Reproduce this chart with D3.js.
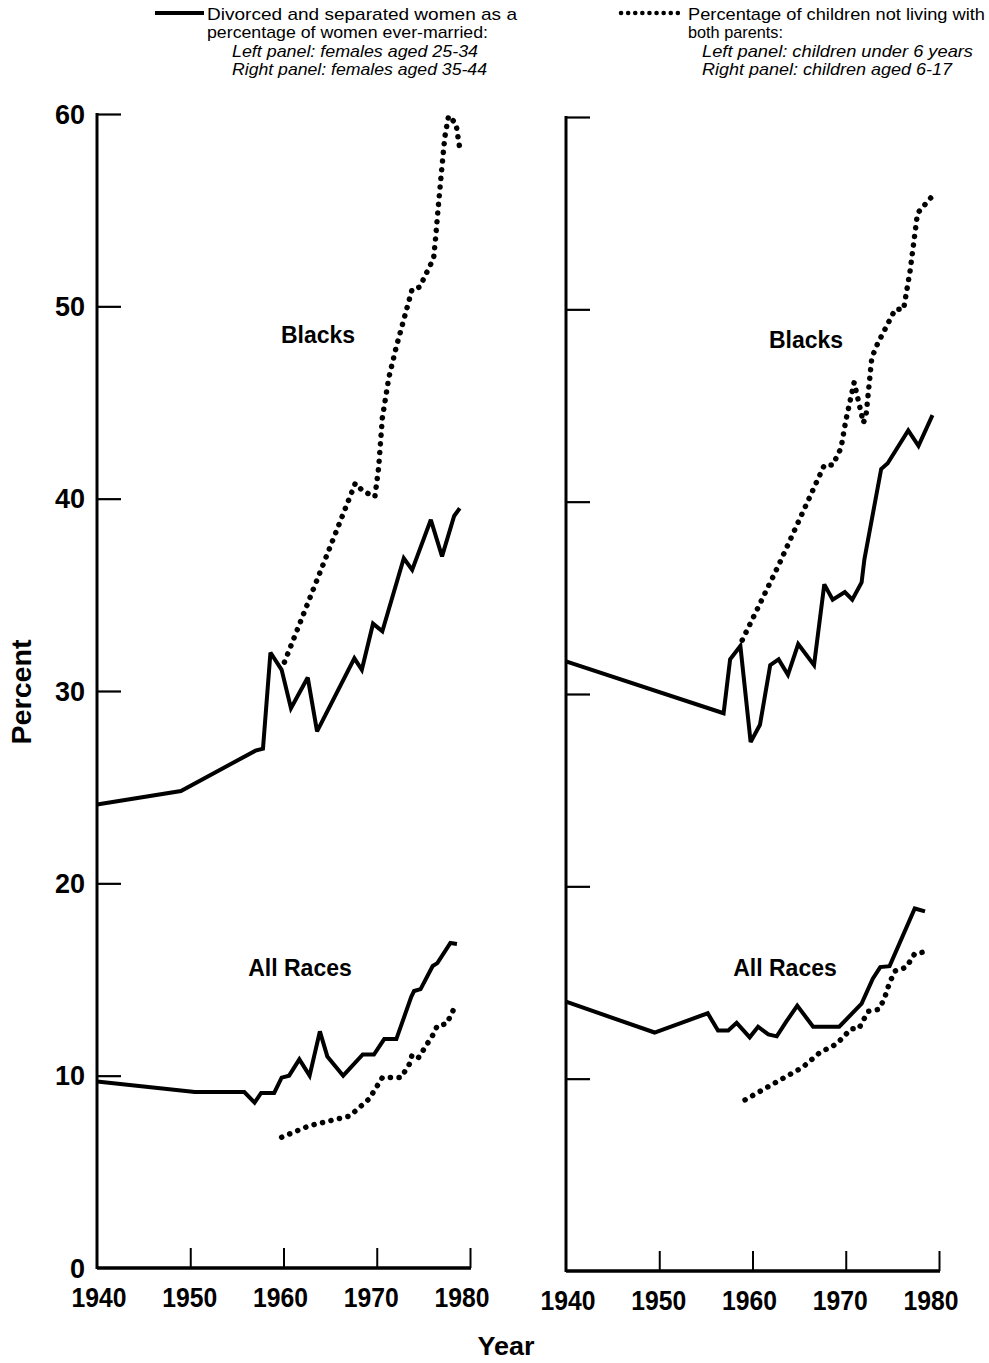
<!DOCTYPE html>
<html>
<head>
<meta charset="utf-8">
<script src="https://cdn.jsdelivr.net/npm/d3@7"></script>
<style>
  html, body { margin: 0; padding: 0; background: #fff; }
  svg { display: block; }
  text { font-family: "Liberation Sans", Arial, Helvetica, sans-serif; fill: #000; }
</style>
</head>
<body>
<svg id="chart" width="989" height="1363"></svg>
<script>
// ---------------- DATA ----------------
const yTicks = [0, 10, 20, 30, 40, 50, 60];
const xTicks = [1940, 1950, 1960, 1970, 1980];

// Left panel: divorced/separated women 25-34 (solid), children under 6 not living with both parents (dotted)
const leftBlackSolidYears = [1940, 1949, 1957, 1957.8, 1958.6, 1959.8, 1960.8, 1962.6, 1963.6, 1967.6, 1968.4, 1969.6, 1970.6, 1972.9, 1973.8, 1975.8, 1977.0, 1978.3, 1978.9];
const leftBlackSolidVals  = [24.1, 24.8, 26.9, 27.0, 32.0, 31.1, 29.1, 30.7, 27.9, 31.7, 31.1, 33.5, 33.1, 36.9, 36.3, 38.9, 37.0, 39.1, 39.5];

const leftBlackDotYears = [1960.1, 1967.7, 1968.5, 1969.8, 1970.2, 1970.6, 1971.3, 1972.1, 1973.8, 1974.6, 1976.1, 1976.3, 1976.6, 1977.0, 1977.3, 1977.7, 1978.5, 1978.8, 1979.0];
const leftBlackDotVals  = [31.5, 40.8, 40.4, 40.1, 41.6, 44.2, 46.3, 47.9, 50.9, 51.0, 52.5, 53.5, 55.2, 57.3, 58.8, 59.9, 59.5, 58.5, 58.0];

const leftAllSolidYears = [1940, 1950.5, 1955.8, 1956.9, 1957.6, 1959.0, 1959.8, 1960.6, 1961.7, 1962.8, 1963.9, 1964.7, 1966.4, 1968.5, 1969.7, 1970.8, 1972.1, 1973.7, 1974.0, 1974.7, 1976.0, 1976.5, 1977.9, 1978.6];
const leftAllSolidVals  = [9.7, 9.15, 9.15, 8.6, 9.1, 9.1, 9.9, 10.0, 10.85, 10.0, 12.3, 11.0, 10.0, 11.1, 11.1, 11.9, 11.9, 14.1, 14.4, 14.5, 15.7, 15.85, 16.9, 16.85];

const leftAllDotYears = [1959.8, 1962.8, 1967.1, 1969.2, 1970.6, 1972.6, 1973.5, 1973.8, 1974.5, 1976.0, 1976.5, 1977.5, 1978.4];
const leftAllDotVals  = [6.8, 7.4, 7.9, 8.8, 9.9, 9.9, 10.6, 11.1, 10.95, 12.1, 12.6, 12.7, 13.6];

// Right panel: divorced/separated women 35-44 (solid), children aged 6-17 (dotted)
const rightBlackSolidYears = [1940, 1956.9, 1957.6, 1958.7, 1959.8, 1960.8, 1961.9, 1962.8, 1963.8, 1964.9, 1966.6, 1967.7, 1968.6, 1969.9, 1970.7, 1971.7, 1972.0, 1973.8, 1974.5, 1976.7, 1977.8, 1979.3];
const rightBlackSolidVals  = [31.7, 29.0, 31.8, 32.5, 27.5, 28.4, 31.5, 31.8, 31.0, 32.6, 31.5, 35.7, 34.9, 35.3, 34.9, 35.8, 37.0, 41.7, 42.0, 43.7, 42.9, 44.5];

const rightBlackDotYears = [1958.9, 1962.8, 1967.7, 1968.6, 1969.5, 1970.0, 1970.9, 1971.9, 1972.2, 1972.8, 1973.4, 1975.3, 1976.2, 1976.9, 1977.7, 1979.3];
const rightBlackDotVals  = [32.8, 36.7, 41.9, 41.9, 42.8, 44.2, 46.2, 44.1, 44.6, 47.5, 48.2, 50.0, 50.0, 52.0, 55.0, 55.9];

const rightAllSolidYears = [1940, 1949.5, 1955.2, 1956.3, 1957.4, 1958.3, 1959.7, 1960.6, 1961.7, 1962.6, 1963.6, 1964.8, 1966.5, 1969.3, 1971.7, 1972.9, 1973.7, 1974.7, 1977.4, 1978.5];
const rightAllSolidVals  = [14.0, 12.4, 13.4, 12.5, 12.5, 12.9, 12.15, 12.7, 12.3, 12.2, 12.95, 13.8, 12.7, 12.7, 13.9, 15.2, 15.8, 15.85, 18.85, 18.7];

const rightAllDotYears = [1959.2, 1965.4, 1967.2, 1969.0, 1970.6, 1971.4, 1972.4, 1973.5, 1974.1, 1974.7, 1975.3, 1976.5, 1977.4, 1978.6];
const rightAllDotVals  = [8.9, 10.6, 11.35, 11.8, 12.6, 12.6, 13.5, 13.6, 14.1, 15.0, 15.6, 15.8, 16.5, 16.6];

const legendSolidLines = ["Divorced and separated women as a", "percentage of women ever-married:"];
const legendSolidItalic = ["Left panel: females aged 25-34", "Right panel: females aged 35-44"];
const legendDotLines = ["Percentage of children not living with", "both parents:"];
const legendDotItalic = ["Left panel: children under 6 years", "Right panel: children aged 6-17"];

// ---------------- DRAW ----------------
const svg = d3.select("#chart");

function zip(xs, ys) { return xs.map((x, i) => ({ x: x, y: ys[i] })); }

const panels = [
  { x0: 97, x1: 470, yTop: 114, yBot: 1268, labels: true,
    series: [
      { d: zip(leftBlackSolidYears, leftBlackSolidVals), dot: false },
      { d: zip(leftBlackDotYears, leftBlackDotVals), dot: true },
      { d: zip(leftAllSolidYears, leftAllSolidVals), dot: false },
      { d: zip(leftAllDotYears, leftAllDotVals), dot: true }
    ],
    blacks: [318, 343], all: [300, 976] },
  { x0: 566, x1: 939, yTop: 117, yBot: 1271, labels: false,
    series: [
      { d: zip(rightBlackSolidYears, rightBlackSolidVals), dot: false },
      { d: zip(rightBlackDotYears, rightBlackDotVals), dot: true },
      { d: zip(rightAllSolidYears, rightAllSolidVals), dot: false },
      { d: zip(rightAllDotYears, rightAllDotVals), dot: true }
    ],
    blacks: [806, 348], all: [785, 976] }
];

panels.forEach(p => {
  const x = d3.scaleLinear().domain([1940, 1980]).range([p.x0, p.x1]);
  const y = d3.scaleLinear().domain([0, 60]).range([p.yBot, p.yTop]);
  const g = svg.append("g");

  // Y axis with inward ticks
  const yAxis = d3.axisRight(y).tickValues(yTicks).tickSize(24).tickFormat("");
  const ya = g.append("g").attr("transform", `translate(${p.x0},0)`).call(yAxis);
  ya.select(".domain").remove();
  ya.selectAll(".tick line").attr("stroke", "#000").attr("stroke-width", 2.2)
    .filter(d => d === 0).remove();
  g.append("line").attr("x1", p.x0).attr("x2", p.x0).attr("y1", p.yTop - 1).attr("y2", p.yBot + 1)
    .attr("stroke", "#000").attr("stroke-width", 3);

  // X axis with inward ticks
  const xAxis = d3.axisTop(x).tickValues(xTicks).tickSize(20).tickFormat("");
  const xa = g.append("g").attr("transform", `translate(0,${p.yBot})`).call(xAxis);
  xa.select(".domain").remove();
  xa.selectAll(".tick line").attr("stroke", "#000").attr("stroke-width", 2)
    .filter(d => d === 1940).remove();
  g.append("line").attr("x1", p.x0).attr("x2", p.x1 + 1).attr("y1", p.yBot).attr("y2", p.yBot)
    .attr("stroke", "#000").attr("stroke-width", 3.5);

  // X tick labels
  g.selectAll(".xl").data(xTicks).enter().append("text")
    .attr("x", d => x(d) + 2 - (d - 1940) * 0.25).attr("y", p.yBot + 39)
    .attr("text-anchor", "middle").attr("font-size", 27).attr("font-weight", "bold")
    .attr("textLength", 55).attr("lengthAdjust", "spacingAndGlyphs")
    .text(d => d);

  if (p.labels) {
    g.selectAll(".yl").data(yTicks).enter().append("text")
      .attr("x", p.x0 - 12).attr("y", d => y(d) + 9.5)
      .attr("text-anchor", "end").attr("font-size", 27).attr("font-weight", "bold")
      .text(d => d);
  }

  const line = d3.line().x(d => x(d.x)).y(d => y(d.y));
  p.series.forEach(s => {
    const path = g.append("path").datum(s.d).attr("d", line)
      .attr("fill", "none").attr("stroke", "#000");
    if (s.dot) {
      path.attr("stroke-width", 5.5).attr("stroke-linecap", "round")
        .attr("stroke-dasharray", "0.1 8.6");
    } else {
      path.attr("stroke-width", 4).attr("stroke-linejoin", "miter").attr("stroke-miterlimit", 3);
    }
  });

  g.append("text").attr("x", p.blacks[0]).attr("y", p.blacks[1])
    .attr("text-anchor", "middle").attr("font-size", 23).attr("font-weight", "bold").text("Blacks");
  g.append("text").attr("x", p.all[0]).attr("y", p.all[1])
    .attr("text-anchor", "middle").attr("font-size", 23).attr("font-weight", "bold").text("All Races");
});

// Axis titles
svg.append("text").attr("transform", "translate(31,692) rotate(-90)")
  .attr("text-anchor", "middle").attr("font-size", 27).attr("font-weight", "bold")
  .attr("textLength", 105).attr("lengthAdjust", "spacingAndGlyphs").text("Percent");
svg.append("text").attr("x", 506).attr("y", 1355)
  .attr("text-anchor", "middle").attr("font-size", 26).attr("font-weight", "bold")
  .attr("textLength", 57).attr("lengthAdjust", "spacingAndGlyphs").text("Year");

// Legend
const solidW = [310, 281], solidIW = [246, 255];
const dotW = [297, 95], dotIW = [271, 250];
svg.append("line").attr("x1", 155).attr("x2", 204).attr("y1", 13).attr("y2", 13)
  .attr("stroke", "#000").attr("stroke-width", 4);
legendSolidLines.forEach((t, i) => {
  svg.append("text").attr("x", 207).attr("y", 20 + i * 18).attr("font-size", 17)
    .attr("textLength", solidW[i]).attr("lengthAdjust", "spacingAndGlyphs").text(t);
});
legendSolidItalic.forEach((t, i) => {
  svg.append("text").attr("x", 232).attr("y", 57 + i * 18).attr("font-size", 17)
    .attr("font-style", "italic")
    .attr("textLength", solidIW[i]).attr("lengthAdjust", "spacingAndGlyphs").text(t);
});

svg.append("line").attr("x1", 621).attr("x2", 684).attr("y1", 13).attr("y2", 13)
  .attr("stroke", "#000").attr("stroke-width", 4.5).attr("stroke-linecap", "round")
  .attr("stroke-dasharray", "0.1 7");
legendDotLines.forEach((t, i) => {
  svg.append("text").attr("x", 688).attr("y", 20 + i * 18).attr("font-size", 17)
    .attr("textLength", dotW[i]).attr("lengthAdjust", "spacingAndGlyphs").text(t);
});
legendDotItalic.forEach((t, i) => {
  svg.append("text").attr("x", 702).attr("y", 57 + i * 18).attr("font-size", 17)
    .attr("font-style", "italic")
    .attr("textLength", dotIW[i]).attr("lengthAdjust", "spacingAndGlyphs").text(t);
});
</script>
</body>
</html>
